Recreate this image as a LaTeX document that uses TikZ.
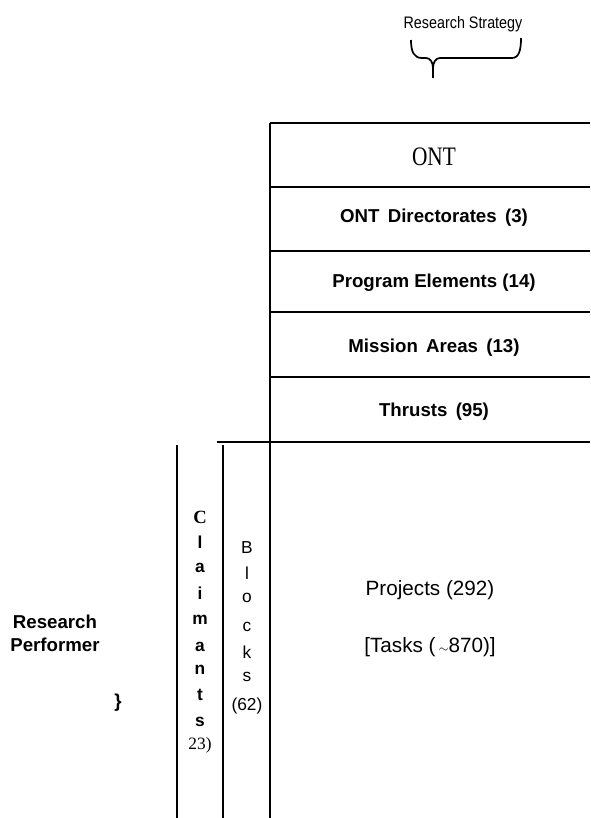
\documentclass[tikz,border=0pt]{standalone}
\usepackage{fontspec}
\setmainfont{Liberation Sans}
\newfontfamily\serfont{Liberation Serif}
\begin{document}
\begin{tikzpicture}[x=0.75pt,y=-0.75pt,
  rule/.style={line width=1.3pt},
  bl/.style={font=\bfseries\fontsize{14}{17}\selectfont, inner sep=0pt},
  rg/.style={font=\fontsize{15.5}{18}\selectfont, inner sep=0pt},
  vl/.style={font=\bfseries\fontsize{13}{15}\selectfont, inner sep=0pt},
  vr/.style={font=\fontsize{13}{15}\selectfont, inner sep=0pt}]
\useasboundingbox (0,0) rectangle (590,818);
% top label and brace
\begin{scope}
  \clip (360,16) rectangle (560,45);
  \node[font=\fontsize{12.5}{14}\selectfont, inner sep=0pt, anchor=base] (rs) at (463,28) {\scalebox{0.86}[1]{Research Strategy}};
\end{scope}
\draw[line width=1.3pt, line join=round] (411,40) .. controls (411,52) and (414,58) .. (422,58)
  -- (426,58) .. controls (430,58) and (433,62) .. (433,68)
  .. controls (433,62) and (436,58) .. (440,58) -- (512,58)
  .. controls (519,58) and (521,50) .. (521,38);
\draw[line width=1.3pt] (433,66) -- (433,78);
% table lines
\draw[rule] (270,123) -- (590,123);
\draw[rule] (270,123) -- (270,818);
\draw[rule] (271,187) -- (590,187);
\draw[rule] (271,251) -- (590,251);
\draw[rule] (271,312) -- (590,312);
\draw[rule] (271,377) -- (590,377);
\draw[rule] (217,442) -- (590,442);
\draw[rule] (177,445) -- (177,818);
\draw[rule] (223,445) -- (223,818);
% labels
\node[font=\serfont\fontsize{20}{22}\selectfont, inner sep=0pt] (ont) at (434,157) {\scalebox{0.8}[1]{ONT}};
\node[bl] (dir) at (434,218) {ONT\, Directorates\, (3)};
\node[bl] (pe) at (434,283) {Program Elements (14)};
\node[bl] (ma) at (434,348) {Mission\, Areas\, (13)};
\node[bl] (th) at (434,412) {Thrusts\, (95)};
\node[rg] (pr) at (430,590) {Projects (292)};
\node[rg] (ta) at (430,647) {[Tasks (\,{\small$\sim$}870)]};
\node[bl, align=center] (rp) at (55,633) {Research\\Performer};
\node[bl] (br) at (118,703) {\}};
% Claimants column
\node[font=\serfont\bfseries\fontsize{14}{16}\selectfont, inner sep=0pt] (c0) at (200,517) {C};
\foreach \ch/\yy [count=\i] in {l/542, a/568, i/593, m/620, a/647, n/670, t/695, s/722}
  \node[vl] (c\i) at (200,\yy) {\ch};
\node[font=\serfont\fontsize{13}{15}\selectfont, inner sep=0pt] (c9) at (200,745) {23)};
% Blocks column
\foreach \ch/\yy [count=\i] in {B/548, l/573, o/598, c/627, k/652, s/677}
  \node[vr] (b\i) at (247,\yy) {\ch};
\node[vr] (b7) at (247,706) {(62)};
\end{tikzpicture}
\end{document}
